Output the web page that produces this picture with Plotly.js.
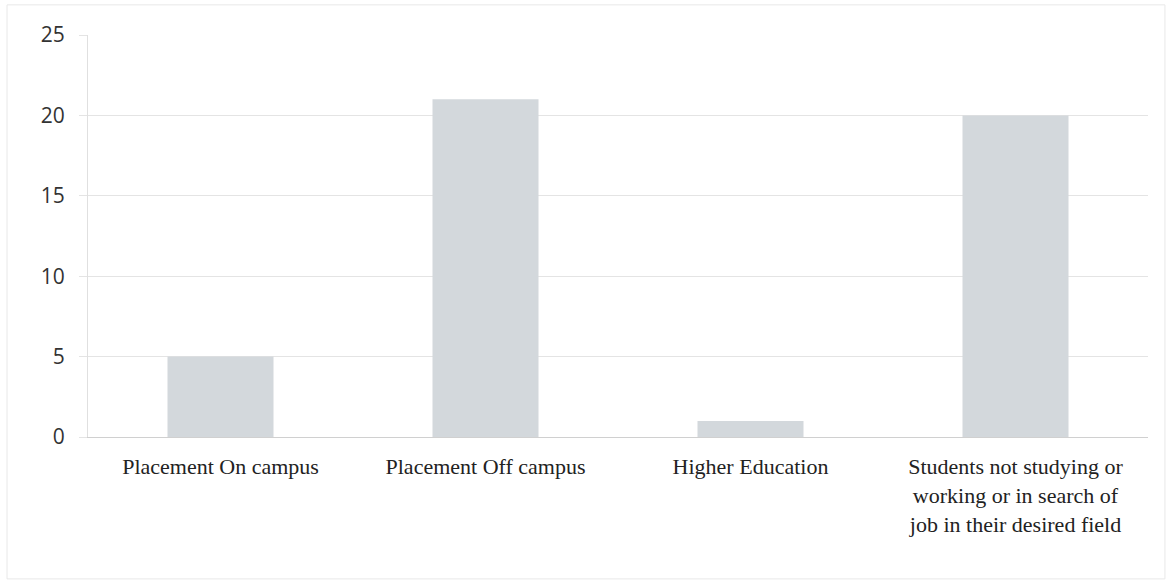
<!DOCTYPE html>
<html>
<head>
<meta charset="utf-8">
<script src="https://cdn.plot.ly/plotly-3.0.1.min.js"></script>
<style>body{margin:0;background:#fff;} #chart{width:1172px;height:582px;}</style>
</head>
<body>
<div id="chart"></div>
<script>
const categories = [
  "Placement On campus",
  "Placement Off campus",
  "Higher Education",
  "Students not studying or<br>working or in search of<br>job in their desired field"
];
const values = [5, 21, 1, 20];
const yTicks = [0, 5, 10, 15, 20, 25];

const trace = {
  type: "bar",
  x: categories,
  y: values,
  width: 0.4,
  marker: { color: "#d3d8dc", line: { width: 0 } },
  hoverinfo: "x+y"
};

const layout = {
  width: 1172,
  height: 582,
  margin: { l: 88, r: 24, t: 35, b: 145 },
  paper_bgcolor: "#ffffff",
  plot_bgcolor: "#ffffff",
  showlegend: false,
  bargap: 0.6,
  xaxis: {
    type: "category",
    showgrid: false,
    zeroline: false,
    showline: true,
    linecolor: "#d0d0d0",
    linewidth: 1,
    ticks: "",
    tickangle: 0,
    tickfont: { family: "Liberation Serif, Times New Roman, serif", size: 22, color: "#222222" },
    ticklabelstandoff: 10,
    fixedrange: true
  },
  yaxis: {
    range: [0, 25],
    tickvals: yTicks,
    ticktext: yTicks.map(String),
    showgrid: true,
    gridcolor: "#e4e4e4",
    gridwidth: 1,
    zeroline: false,
    showline: true,
    linecolor: "#e0e0e0",
    ticks: "outside",
    ticklen: 8,
    tickcolor: "#e4e4e4",
    tickfont: { family: "Open Sans, DejaVu Sans, sans-serif", size: 21, color: "#333333" },
    ticklabelstandoff: 10,
    fixedrange: true
  },
  shapes: [
    {
      type: "rect", xref: "paper", yref: "paper",
      x0: -0.0764, x1: 1.016, y0: -0.353, y1: 1.075,
      line: { color: "#e8e8e8", width: 1 }, fillcolor: "rgba(0,0,0,0)"
    }
  ]
};

Plotly.newPlot("chart", [trace], layout, { displayModeBar: false, staticPlot: true });
</script>
</body>
</html>
